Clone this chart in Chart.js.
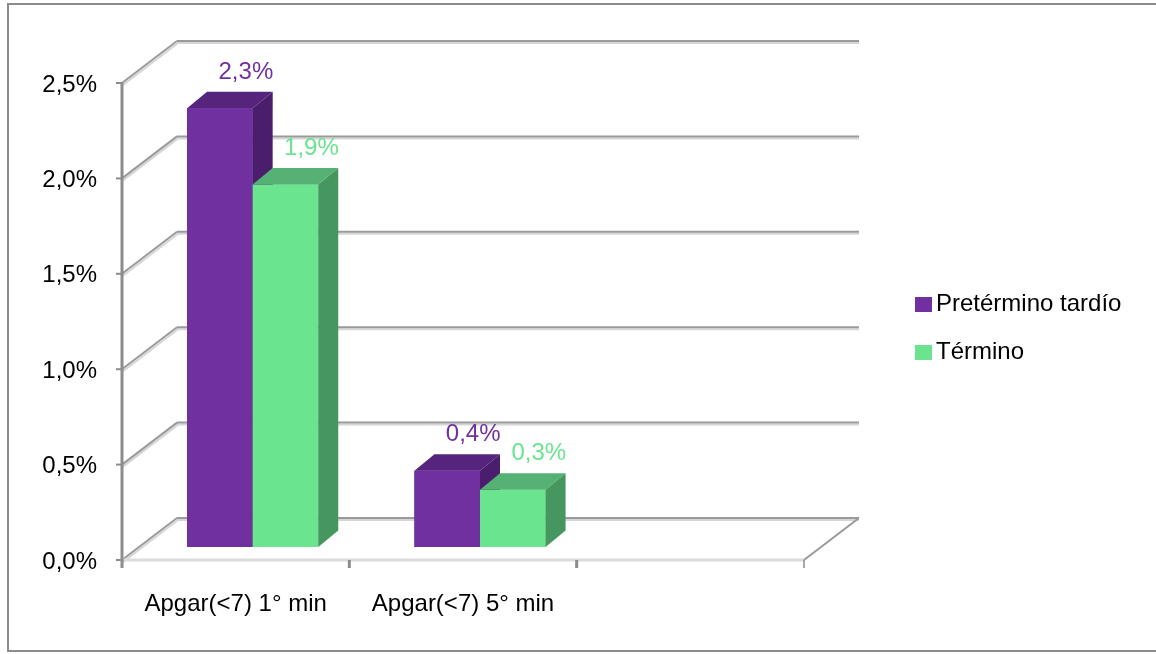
<!DOCTYPE html>
<html>
<head>
<meta charset="utf-8">
<title>Apgar &lt;7</title>
<script src="https://cdn.jsdelivr.net/npm/chart.js@4.4.1/dist/chart.umd.min.js"></script>
<style>
  html, body { margin: 0; padding: 0; background: #fff; }
  canvas { display: block; }
</style>
</head>
<body>
<canvas id="apgarChart" width="1156" height="654"></canvas>
<script>
var categorias = ['Apgar(<7) 1° min', 'Apgar(<7) 5° min', ''];
var series = ['Pretérmino tardío', 'Término'];
var pretermino = [2.3, 0.4, null];
var termino = [1.9, 0.3, null];
var ticksY = [0, 0.5, 1.0, 1.5, 2.0, 2.5];

var FONT = "'Liberation Sans', Arial, sans-serif";
var FONT_SIZE = 24;

// the bars stand on a middle plane; front axis and back wall are shifted from it
var FRONT = { x: -17, y: 13 };
var BACK = { x: 38, y: -29 };
var DEPTH = { x: 20, y: -16.5 };

var caras = [
  { frente: '#7030A0', arriba: '#56247C', lado: '#4A1E6C' },
  { frente: '#6AE48F', arriba: '#56B174', lado: '#46975F' }
];

function pct(v) {
  return v.toFixed(1).replace('.', ',') + '%';
}

function linea(ctx, x1, y1, x2, y2, color, w) {
  ctx.beginPath();
  ctx.moveTo(x1, y1);
  ctx.lineTo(x2, y2);
  ctx.strokeStyle = color;
  ctx.lineWidth = w;
  ctx.stroke();
}

function poligono(ctx, pts, color) {
  ctx.beginPath();
  ctx.moveTo(pts[0][0], pts[0][1]);
  for (var i = 1; i < pts.length; i++) ctx.lineTo(pts[i][0], pts[i][1]);
  ctx.closePath();
  ctx.fillStyle = color;
  ctx.fill();
}

var marco = {
  id: 'marco',
  beforeDraw: function (chart) {
    var ctx = chart.ctx;
    ctx.save();
    ctx.strokeStyle = '#8c8c8c';
    ctx.lineWidth = 2;
    ctx.strokeRect(8, 4, 1160, 647);
    ctx.restore();
  }
};

// walls, floor and front axis of the 3D box
var paredes = {
  id: 'paredes',
  beforeDatasetsDraw: function (chart) {
    var ctx = chart.ctx;
    var a = chart.chartArea;
    var ys = chart.scales.y;
    var xs = chart.scales.x;
    ctx.save();
    ctx.lineCap = 'butt';

    ticksY.forEach(function (v) {
      var p = ys.getPixelForValue(v);
      var yb = p + BACK.y, yf = p + FRONT.y;
      var xb = a.left + BACK.x, xf = a.left + FRONT.x;
      // back wall line with its light shade
      linea(ctx, xb, yb + 2, a.right + BACK.x, yb + 2, '#d6d6d6', 2);
      linea(ctx, xb, yb, a.right + BACK.x, yb, '#9a9a9a', 2);
      // side wall diagonal
      linea(ctx, xf + 1, yf + 2, xb + 1, yb + 2, '#d6d6d6', 2);
      linea(ctx, xf, yf, xb, yb, '#9a9a9a', 2);
      // tick on the front axis
      linea(ctx, xf - 6, yf, xf, yf, '#8c8c8c', 2);
    });

    var y0 = ys.getPixelForValue(0);
    var yTop = ys.getPixelForValue(ticksY[ticksY.length - 1]);
    var xf = a.left + FRONT.x;
    // floor front edge and right diagonal
    linea(ctx, xf, y0 + FRONT.y, a.right + FRONT.x, y0 + FRONT.y, '#dcdcdc', 3);
    linea(ctx, a.right + FRONT.x, y0 + FRONT.y, a.right + BACK.x, y0 + BACK.y, '#9a9a9a', 2);
    // front vertical axis
    linea(ctx, xf, yTop + FRONT.y, xf, y0 + FRONT.y + 1, '#8c8c8c', 3);
    // category separators
    for (var k = 0; k <= categorias.length; k++) {
      var xc = xs.getPixelForValue(k - 0.5) + FRONT.x;
      linea(ctx, xc, y0 + FRONT.y, xc, y0 + FRONT.y + 8, '#8c8c8c', k === categorias.length ? 1.5 : 3);
    }
    ctx.restore();
  }
};

// redraw the bars series by series with top and side faces, then the value labels
var barras3d = {
  id: 'barras3d',
  afterDatasetsDraw: function (chart) {
    var ctx = chart.ctx;
    ctx.save();
    chart.data.datasets.forEach(function (ds, d) {
      var meta = chart.getDatasetMeta(d);
      meta.data.forEach(function (el, i) {
        if (ds.data[i] === null) return;
        var p = el.getProps(['x', 'y', 'base', 'width'], true);
        var l = p.x - p.width / 2, r = p.x + p.width / 2;
        el.draw(ctx);
        poligono(ctx, [[l, p.y], [l + DEPTH.x, p.y + DEPTH.y], [r + DEPTH.x, p.y + DEPTH.y], [r, p.y]], caras[d].arriba);
        poligono(ctx, [[r, p.y], [r + DEPTH.x, p.y + DEPTH.y], [r + DEPTH.x, p.base + DEPTH.y], [r, p.base]], caras[d].lado);
      });
    });
    ctx.font = FONT_SIZE + 'px ' + FONT;
    ctx.textAlign = 'center';
    ctx.textBaseline = 'alphabetic';
    chart.data.datasets.forEach(function (ds, d) {
      var meta = chart.getDatasetMeta(d);
      meta.data.forEach(function (el, i) {
        if (ds.data[i] === null) return;
        var p = el.getProps(['x', 'y'], true);
        ctx.fillStyle = caras[d].frente;
        ctx.fillText(pct(ds.data[i]), p.x + 26, p.y + DEPTH.y - 13);
      });
    });
    ctx.restore();
  }
};

var leyenda = {
  id: 'leyenda',
  afterDraw: function (chart) {
    var ctx = chart.ctx;
    ctx.save();
    ctx.font = FONT_SIZE + 'px ' + FONT;
    ctx.textAlign = 'left';
    ctx.textBaseline = 'alphabetic';
    chart.data.datasets.forEach(function (ds, d) {
      var base = 311 + d * 48;
      ctx.fillStyle = caras[d].frente;
      ctx.fillRect(915, base - 14, 17, 15);
      ctx.fillStyle = '#000';
      ctx.fillText(ds.label, 936, base);
    });
    ctx.restore();
  }
};

new Chart(document.getElementById('apgarChart'), {
  type: 'bar',
  data: {
    labels: categorias,
    datasets: [
      { label: series[0], data: pretermino, backgroundColor: caras[0].frente, borderWidth: 0 },
      { label: series[1], data: termino, backgroundColor: caras[1].frente, borderWidth: 0 }
    ]
  },
  options: {
    responsive: false,
    animation: false,
    events: [],
    layout: { padding: { left: 0, right: 335, top: 70, bottom: 0 } },
    datasets: { bar: { categoryPercentage: 0.577, barPercentage: 1.0 } },
    scales: {
      x: {
        grid: { display: false, drawTicks: false },
        border: { display: false },
        afterFit: function (scale) { scale.height = 107; },
        ticks: {
          autoSkip: false,
          maxRotation: 0,
          minRotation: 0,
          padding: 43,
          labelOffset: FRONT.x,
          color: '#000',
          font: { family: FONT, size: FONT_SIZE }
        }
      },
      y: {
        min: 0,
        max: 2.5,
        grid: { display: false, drawTicks: false },
        border: { display: false },
        afterFit: function (scale) { scale.width = 139; },
        afterBuildTicks: function (scale) {
          scale.ticks = ticksY.map(function (v) { return { value: v }; });
        },
        ticks: {
          padding: 42,
          labelOffset: FRONT.y + 2,
          color: '#000',
          font: { family: FONT, size: FONT_SIZE },
          callback: function (v) { return pct(v); }
        }
      }
    },
    plugins: {
      legend: { display: false },
      tooltip: { enabled: false }
    }
  },
  plugins: [marco, paredes, barras3d, leyenda]
});
</script>
</body>
</html>
